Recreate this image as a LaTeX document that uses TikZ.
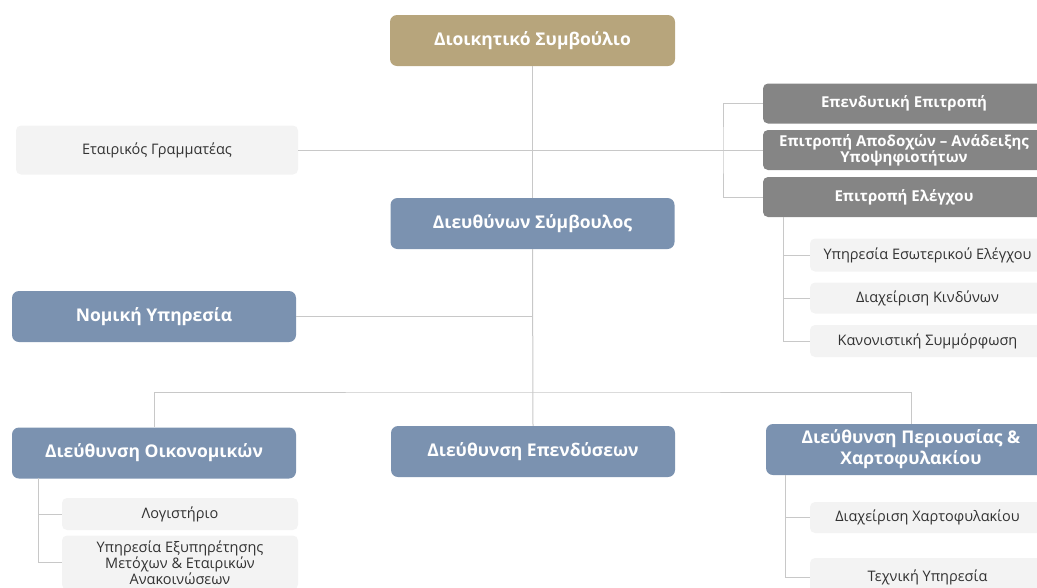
\documentclass[tikz,border=0pt]{standalone}
\usepackage{fontspec}
\setmainfont{Open Sans}
\usetikzlibrary{calc}
\definecolor{tanbox}{RGB}{183,165,124}
\definecolor{bluebox}{RGB}{123,146,176}
\definecolor{greybox}{RGB}{133,133,133}
\definecolor{palebox}{RGB}{243,243,243}
\definecolor{linkgrey}{RGB}{200,200,200}
\definecolor{textgrey}{RGB}{50,50,50}
\begin{document}
\begin{tikzpicture}[x=1pt,y=-1pt,
  mainbox/.style={rounded corners=7pt, text=white, font=\fontsize{17.5}{21}\selectfont\bfseries,
    align=center, inner sep=0pt},
  boardbox/.style={mainbox, fill=tanbox},
  unitbox/.style={mainbox, fill=bluebox},
  combox/.style={mainbox, fill=greybox, rounded corners=5pt, font=\fontsize{15}{16}\selectfont\bfseries},
  subbox/.style={rounded corners=5pt, fill=palebox, text=textgrey, align=center, inner sep=0pt,
    font=\fontsize{14.5}{13}\selectfont},
  link/.style={draw=linkgrey, line width=1pt}
]
\useasboundingbox (0,0) rectangle (1037,587);

% top of the hierarchy
\node[boardbox, minimum width=285pt, minimum height=51pt] (board) at (532.5,40.5) {Διοικητικό Συμβούλιο};
\node[unitbox, minimum width=284pt, minimum height=51pt] (ceo) at (532.5,223.5) {Διευθύνων Σύμβουλος};

% secretary and committees
\node[subbox, minimum width=282pt, minimum height=49pt] (sec) at (157,150) {Εταιρικός Γραμματέας};
\node[combox, minimum width=282pt, minimum height=40pt] (com1) at (904,103.5) {Επενδυτική Επιτροπή};
\node[combox, minimum width=282pt, minimum height=40pt] (com2) at (904,150) {Επιτροπή Αποδοχών – Ανάδειξης\\Υποψηφιοτήτων};
\node[combox, minimum width=282pt, minimum height=40pt] (com3) at (904,197) {Επιτροπή Ελέγχου};

% units under the audit committee
\node[subbox, minimum width=235pt, minimum height=33pt] (aud) at (927.5,255) {Υπηρεσία Εσωτερικού Ελέγχου};
\node[subbox, minimum width=235pt, minimum height=31pt] (risk) at (927.5,298) {Διαχείριση Κινδύνων};
\node[subbox, minimum width=235pt, minimum height=32pt] (comp) at (927.5,341) {Κανονιστική Συμμόρφωση};

% legal service
\node[unitbox, minimum width=284pt, minimum height=51pt] (legal) at (154,316.5) {Νομική Υπηρεσία};

% directorates
\node[unitbox, minimum width=284pt, minimum height=51pt] (fin) at (154,453) {Διεύθυνση Οικονομικών};
\node[unitbox, minimum width=284pt, minimum height=51pt] (inv) at (533,451.5) {Διεύθυνση Επενδύσεων};
\node[unitbox, minimum width=290pt, minimum height=51pt] (prop) at (911,449.5) {Διεύθυνση Περιουσίας \&\\Χαρτοφυλακίου};

% units under the directorates
\node[subbox, minimum width=236pt, minimum height=32pt] (acc) at (180,514) {Λογιστήριο};
\node[subbox, minimum width=236pt, minimum height=54pt] (share) at (180,562.5) {Υπηρεσία Εξυπηρέτησης\\Μετόχων \& Εταιρικών\\Ανακοινώσεων};
\node[subbox, minimum width=235pt, minimum height=31pt] (port) at (927.5,517.5) {Διαχείριση Χαρτοφυλακίου};
\node[subbox, minimum width=235pt, minimum height=38pt] (tech) at (927.5,577) {Τεχνική Υπηρεσία};

% junction points of the connectors
\coordinate (combr) at (723,150);
\coordinate (audbr) at (783,217);
\coordinate (finbr) at (38,478);
\coordinate (propbr) at (785,475);
\coordinate (bus) at (533,392);

\begin{scope}[on background layer/.try]
\draw[link] (board.south) -- (ceo.north);
\draw[link] (ceo.south) -- (inv.north);
\draw[link] (sec.east) -- (com2.west);
\draw[link] (com1.west) -| (combr) |- (com3.west);
\draw[link] (legal.east) -- (legal.east -| ceo.south);
\draw[link] (fin.north) |- (bus) -| (prop.north);
\draw[link] (audbr) |- (aud.west);
\draw[link] (audbr) |- (risk.west);
\draw[link] (audbr) |- (comp.west);
\draw[link] (finbr) |- (acc.west);
\draw[link] (finbr) |- (share.west);
\draw[link] (propbr) |- (port.west);
\draw[link] (propbr) |- (tech.west);
\end{scope}
\end{tikzpicture}
\end{document}
